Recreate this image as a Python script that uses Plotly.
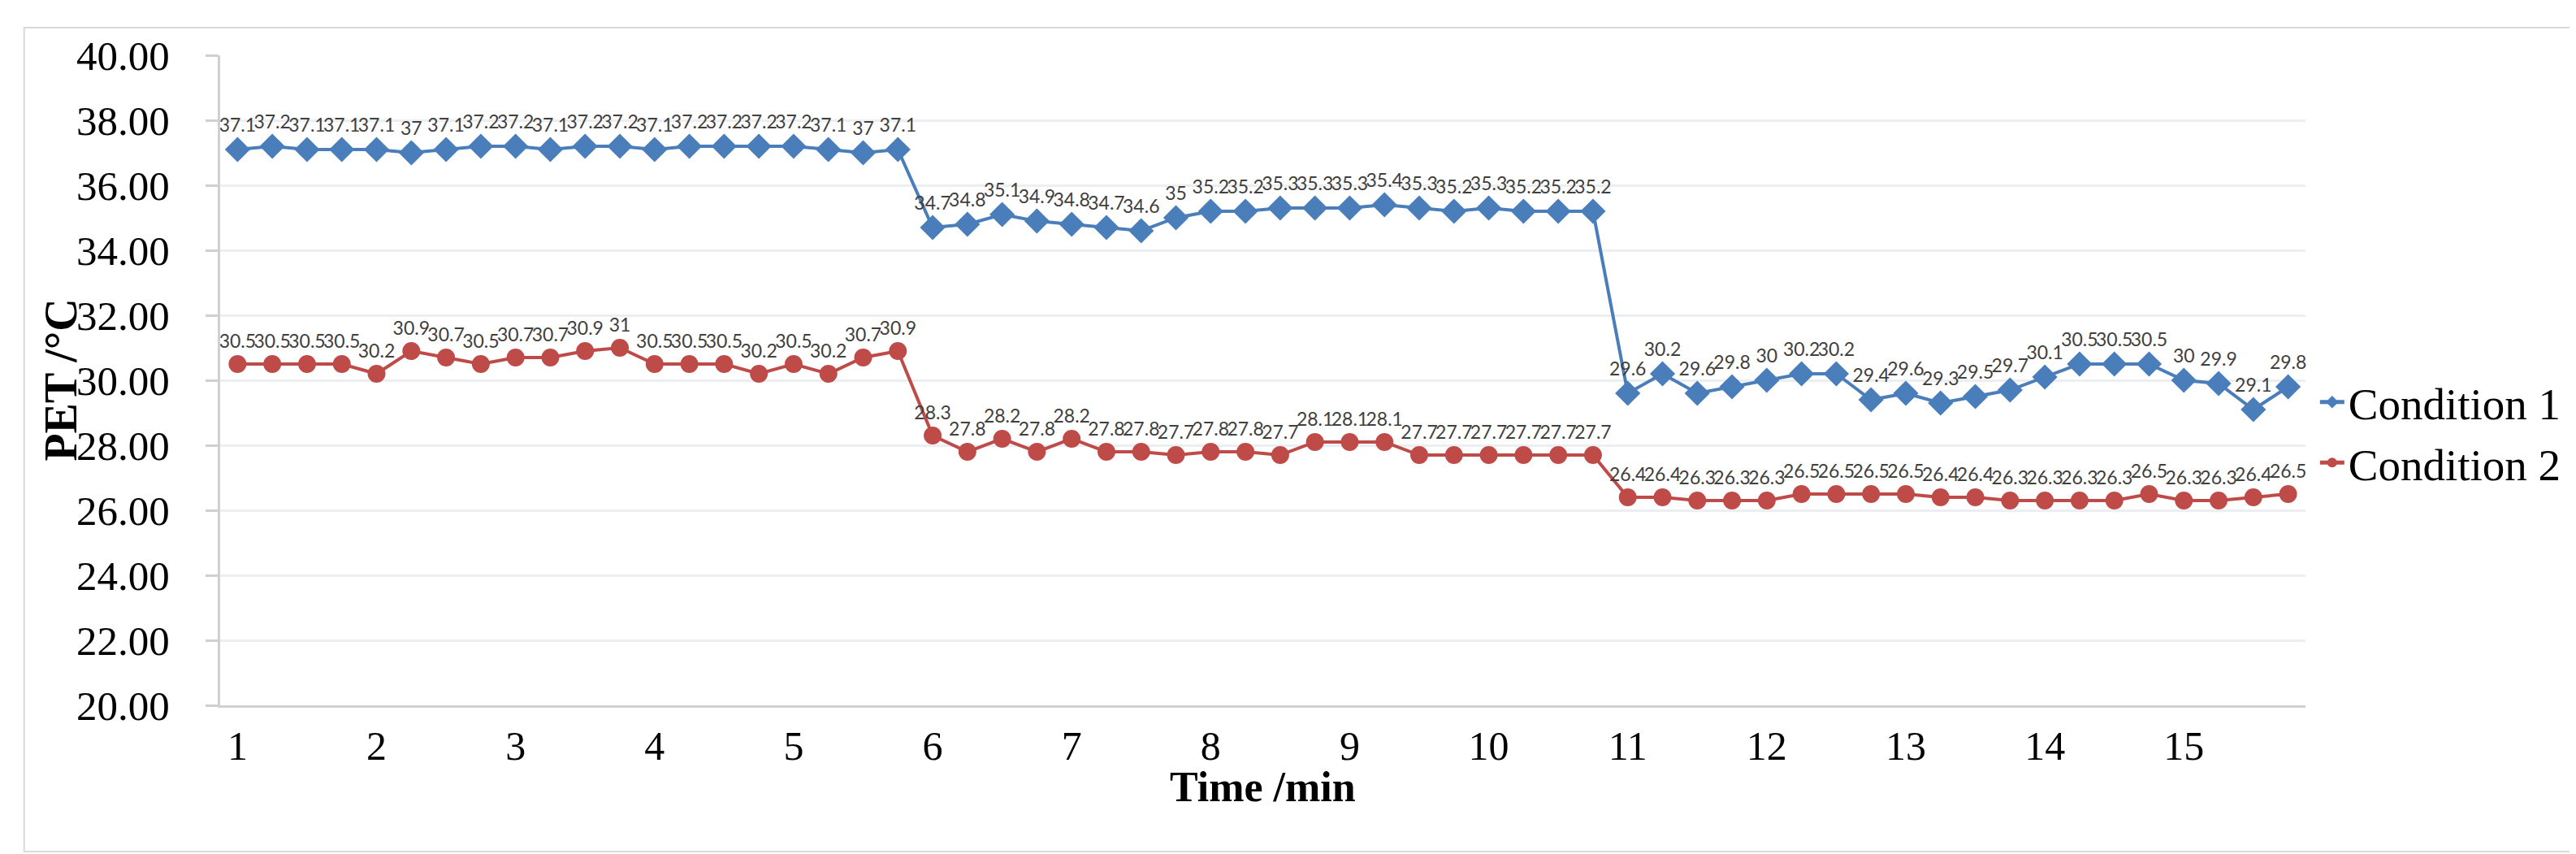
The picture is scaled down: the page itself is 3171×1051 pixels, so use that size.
import plotly.graph_objects as go

# Time axis: 4 readings per minute, minutes 1 .. 15.75
time_min = [1 + i / 4 for i in range(60)]

condition1 = [
    37.1, 37.2, 37.1, 37.1, 37.1, 37.0, 37.1, 37.2, 37.2, 37.1,
    37.2, 37.2, 37.1, 37.2, 37.2, 37.2, 37.2, 37.1, 37.0, 37.1,
    34.7, 34.8, 35.1, 34.9, 34.8, 34.7, 34.6, 35.0, 35.2, 35.2,
    35.3, 35.3, 35.3, 35.4, 35.3, 35.2, 35.3, 35.2, 35.2, 35.2,
    29.6, 30.2, 29.6, 29.8, 30.0, 30.2, 30.2, 29.4, 29.6, 29.3,
    29.5, 29.7, 30.1, 30.5, 30.5, 30.5, 30.0, 29.9, 29.1, 29.8,
]
condition2 = [
    30.5, 30.5, 30.5, 30.5, 30.2, 30.9, 30.7, 30.5, 30.7, 30.7,
    30.9, 31.0, 30.5, 30.5, 30.5, 30.2, 30.5, 30.2, 30.7, 30.9,
    28.3, 27.8, 28.2, 27.8, 28.2, 27.8, 27.8, 27.7, 27.8, 27.8,
    27.7, 28.1, 28.1, 28.1, 27.7, 27.7, 27.7, 27.7, 27.7, 27.7,
    26.4, 26.4, 26.3, 26.3, 26.3, 26.5, 26.5, 26.5, 26.5, 26.4,
    26.4, 26.3, 26.3, 26.3, 26.3, 26.5, 26.3, 26.3, 26.4, 26.5,
]
x_ticks = list(range(1, 16))
y_ticks = [20, 22, 24, 26, 28, 30, 32, 34, 36, 38, 40]
series_names = ["Condition 1", "Condition 2"]

BLUE = "#4A7EBB"
RED = "#BE4B48"
SERIF = "Liberation Serif, Times New Roman, serif"
LABEL_FONT = dict(family="Lato, Carlito, sans-serif", size=23, color="#404040")


def fmt(v):
    return ("%g" % v)


fig = go.Figure()
fig.add_trace(go.Scatter(
    x=time_min, y=condition1, name=series_names[0],
    mode="lines+markers+text",
    line=dict(color=BLUE, width=4),
    marker=dict(symbol="diamond", size=24, color=BLUE),
    text=[fmt(v) for v in condition1], textposition="top center",
    textfont=LABEL_FONT, cliponaxis=False,
))
fig.add_trace(go.Scatter(
    x=time_min, y=condition2, name=series_names[1],
    mode="lines+markers+text",
    line=dict(color=RED, width=4),
    marker=dict(symbol="circle", size=22, color=RED),
    text=[fmt(v) for v in condition2], textposition="top center",
    textfont=LABEL_FONT, cliponaxis=False,
))

fig.update_layout(
    width=3171, height=1051,
    margin=dict(l=263, r=341, t=60, b=191),
    paper_bgcolor="white", plot_bgcolor="white",
    showlegend=True,
    legend=dict(
        x=1.005, y=0.42, xanchor="left", yanchor="middle",
        font=dict(family=SERIF, size=55, color="#000000"),
        itemsizing="constant", tracegroupgap=0,
    ),
    xaxis=dict(
        range=[0.875, 15.875], tickmode="array", tickvals=x_ticks,
        ticktext=[str(t) for t in x_ticks],
        showgrid=False, zeroline=False,
        showline=True, linecolor="#D0D0D0", linewidth=3,
        ticks="", ticklabelstandoff=4,
        tickfont=dict(family=SERIF, size=50, color="#000000"),
    ),
    yaxis=dict(
        range=[20, 40], tickmode="array", tickvals=y_ticks,
        ticktext=["%.2f" % t for t in y_ticks],
        showgrid=True, gridcolor="#ECEEF1", gridwidth=3,
        zeroline=False, showline=True, linecolor="#D0D0D0", linewidth=3,
        ticks="outside", ticklen=15, tickcolor="#D0D0D0", tickwidth=3,
        ticklabelstandoff=34,
        tickfont=dict(family=SERIF, size=51, color="#000000"),
    ),
    annotations=[
        dict(text="<b>PET /°C</b>", xref="paper", yref="paper",
             x=-0.0765, y=0.5, xanchor="center", yanchor="middle",
             textangle=-90, showarrow=False,
             font=dict(family=SERIF, size=56, color="#000000")),
        dict(text="<b>Time /min</b>", xref="paper", yref="paper",
             x=0.5, y=-0.125, xanchor="center", yanchor="middle",
             showarrow=False,
             font=dict(family=SERIF, size=52, color="#000000")),
    ],
    shapes=[
        dict(type="rect", xref="paper", yref="paper",
             x0=-0.094, x1=1.1286, y0=-0.225, y1=1.0425,
             line=dict(color="#D9D9D9", width=2), fillcolor="rgba(0,0,0,0)",
             layer="below"),
    ],
)

fig.write_html("out.html")
